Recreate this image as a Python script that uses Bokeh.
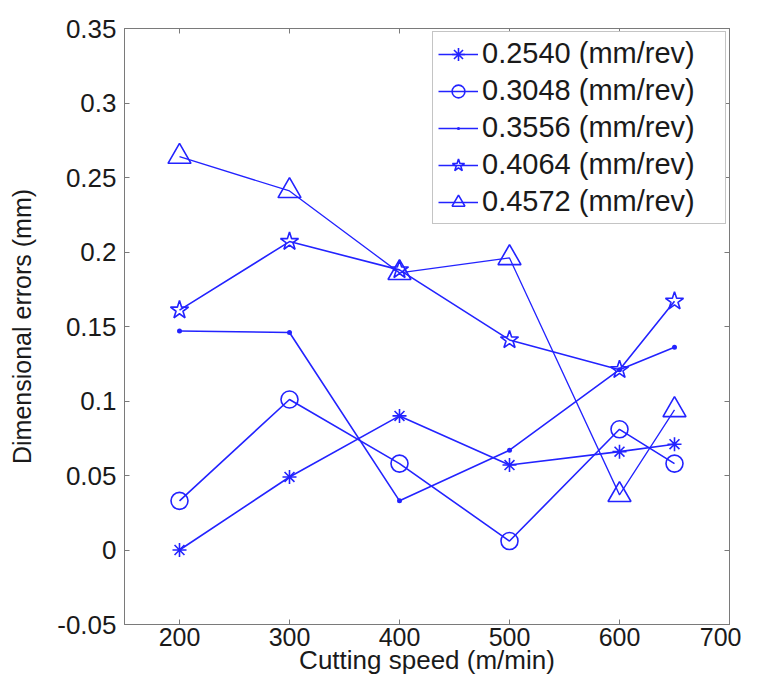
from bokeh.plotting import figure
from bokeh.models import Range1d, FixedTicker, LinearAxis, Legend, LegendItem
from bokeh.embed import file_html
from bokeh.resources import INLINE

# ---- data ----
speed = [200, 300, 400, 500, 600, 650]
err_02540 = [0.000, 0.049, 0.090, 0.057, 0.066, 0.071]
err_03048 = [0.033, 0.101, 0.058, 0.006, 0.081, 0.058]
err_03556 = [0.147, 0.146, 0.033, 0.067, 0.121, 0.136]
err_04064 = [0.161, 0.207, 0.188, 0.141, 0.121, 0.167]
err_04572 = [0.264, 0.241, 0.186, 0.196, 0.037, 0.094]
series_labels = ["0.2540 (mm/rev)", "0.3048 (mm/rev)", "0.3556 (mm/rev)",
                 "0.4064 (mm/rev)", "0.4572 (mm/rev)"]
x_ticks = [200, 300, 400, 500, 600, 700]
x_tick_labels = ["200", "300", "400", "500", "600", "700"]
y_ticks = [-0.05, 0, 0.05, 0.1, 0.15, 0.2, 0.25, 0.3, 0.35]
y_tick_labels = ["-0.05", "0", "0.05", "0.1", "0.15", "0.2", "0.25", "0.3", "0.35"]

FONT = "Liberation Sans"
BLUE = "#2323ff"
AXC = "#7a7a7a"
TXT = "#1a1a1a"

p = figure(width=741, height=682,
           x_range=Range1d(150, 700), y_range=Range1d(-0.05, 0.35),
           output_backend="svg", toolbar_location=None,
           min_border_left=124, min_border_right=12,
           min_border_top=28, min_border_bottom=58,
           x_axis_label="Cutting speed (m/min)",
           y_axis_label="Dimensional errors (mm)")
p.grid.visible = False
p.outline_line_color = AXC
p.background_fill_color = "white"
p.border_fill_color = "white"

# main axes
xa = p.xaxis[0]
xa.ticker = FixedTicker(ticks=x_ticks)
xa.major_label_overrides = {t: l for t, l in zip(x_ticks, x_tick_labels)}
ya = p.yaxis[0]
ya.ticker = FixedTicker(ticks=y_ticks)
ya.major_label_overrides = {t: l for t, l in zip(y_ticks, y_tick_labels)}
for ax in (xa, ya):
    ax.axis_line_color = AXC
    ax.major_tick_line_color = AXC
    ax.major_tick_in = 5
    ax.major_tick_out = 0
    ax.minor_tick_line_color = None
    ax.major_label_text_font = FONT
    ax.major_label_text_color = TXT
    ax.axis_label_text_font = FONT
    ax.axis_label_text_font_style = "normal"
    ax.axis_label_text_color = TXT
xa.major_label_text_font_size = "25px"
xa.major_label_standoff = 3
xa.axis_label_standoff = -4
xa.axis_label_text_font_size = "26px"
ya.major_label_text_font_size = "26px"
ya.major_label_standoff = 8
ya.axis_label_standoff = 18
ya.axis_label_text_font_size = "25px"

# box axes (top / right) with inward ticks, labels not drawn
for loc, tks in (("above", x_ticks), ("right", y_ticks)):
    ax = LinearAxis(ticker=FixedTicker(ticks=tks))
    ax.axis_line_color = AXC
    ax.major_tick_line_color = AXC
    ax.major_tick_in = 5
    ax.major_tick_out = 0
    ax.minor_tick_line_color = None
    ax.major_label_text_font_size = "1px"
    ax.major_label_text_color = None
    ax.major_label_standoff = 0
    p.add_layout(ax, loc)

series = [err_02540, err_03048, err_03556, err_04064, err_04572]
markers = ["asterisk", "circle", "dot", "star", "triangle"]
sizes = [14, 17, 20, 19, 23]
fills = [None, None, BLUE, None, None]
widths = [1.6, 1.6, 1.6, 1.6, 1.3]

items = []
for ys, mk, sz, fc, lw, lbl in zip(series, markers, sizes, fills, widths, series_labels):
    ln = p.line(speed, ys, line_color=BLUE, line_width=lw)
    sc = p.scatter(speed, ys, marker=mk, size=sz, line_color=BLUE,
                   fill_color=fc, line_width=1.6)
    items.append(LegendItem(label=lbl, renderers=[ln, sc]))

legend = Legend(items=items, location="top_right", margin=3,
                padding=5, spacing=4, glyph_width=40, glyph_height=32,
                label_height=32, label_width=238, label_standoff=4,
                label_text_font=FONT, label_text_font_size="29px",
                label_text_color=TXT, border_line_color="#8a8a8a",
                border_line_width=1, background_fill_color="white",
                background_fill_alpha=1.0)
p.add_layout(legend)

open("out.html", "w").write(file_html(p, INLINE))
